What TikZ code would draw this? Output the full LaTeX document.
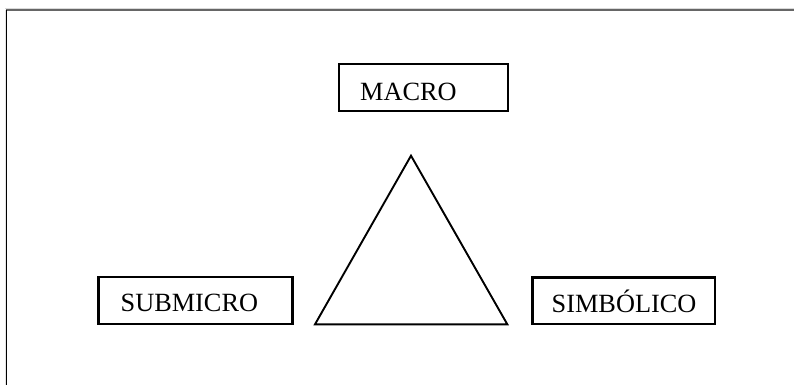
\documentclass[tikz,border=0pt]{standalone}
\usepackage{fontspec}
\setmainfont{Liberation Serif}
\begin{document}
\begin{tikzpicture}[x=1pt,y=-1pt,
  levelbox/.style={draw=black,line width=2.1pt,inner sep=0pt},
  levellabel/.style={inner sep=0pt,font=\fontsize{26.3}{30}\selectfont,anchor=base west}]
\useasboundingbox[fill=white] (0,0) rectangle (794,385);
% page frame: shadowed top edge and left edge
\draw[black!15,line width=1pt] (5,8.5) -- (794,8.5);
\draw[black!60,line width=1.6pt] (6,10) -- (794,10);
\draw[black!10,line width=1pt] (5,10) -- (5,385);
\draw[black,line width=1pt] (6.5,10) -- (6.5,385);
% the three levels
\node[levelbox,minimum width=169,minimum height=47] (macro) at (423.5,87.5) {};
\node[levellabel] (macrot) at (360,100) {MACRO};
\node[levelbox,minimum width=194,minimum height=47.5] (submicro) at (195.5,300.5) {};
\node[levellabel] (submicrot) at (120.5,311.8) {SUBMICRO};
\node[levelbox,minimum width=182.5,minimum height=46.5] (simbolico) at (623.7,300.7) {};
\node[levellabel] (simbolicot) at (551.5,312) {SIMBÓLICO};
% central triangle
\coordinate (apex) at (411,155.7);
\coordinate (bl) at (315,324.3);
\coordinate (br) at (507.3,324.3);
\draw[line width=1.9pt,line join=miter] (apex) -- (bl) -- (br) -- cycle;
\end{tikzpicture}
\end{document}
